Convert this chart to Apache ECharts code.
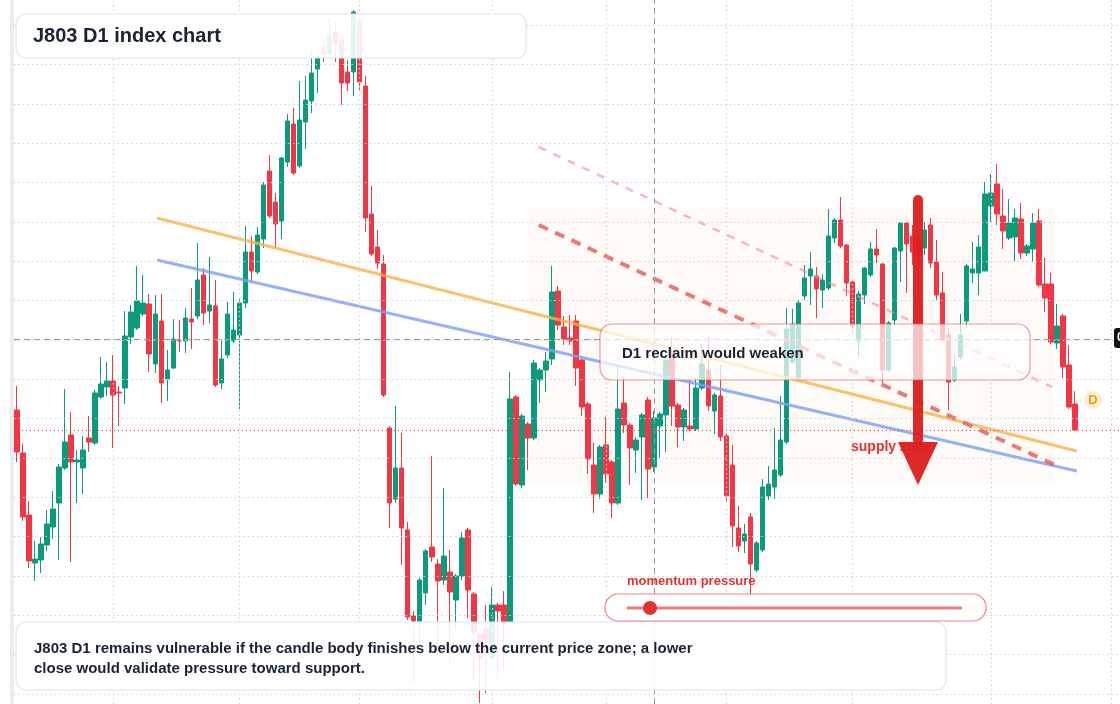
<!DOCTYPE html>
<html><head><meta charset="utf-8">
<script src="https://cdn.jsdelivr.net/npm/echarts@6/dist/echarts.min.js"></script>
<style>html,body{margin:0;padding:0;background:#fff}#c{width:1120px;height:704px}</style>
</head><body><div id="c"></div>
<script>
const opens=[390,347,285,237,240,255,273,297,332,365,338,332,362,357,403,413,419,408,412,463,472,486,496,436,479,421,432,460,459,481,484,525,489,494,417,445,459,465,497,548,528,561,629,598,579,638,676,634,678,699,731,753,746,768,760,728,728,778,714,586,553,536,372,301,332,270,184,179,207,253,236,220,228,200,224,270,206,166,172,142,195,195,178,403,315,376,362,420,430,441,509,473,462,479,440,396,335,306,355,338,297,397,375,350,363,400,333,374,385,443,395,373,374,371,412,430,389,404,364,335,272,259,283,230,250,304,313,325,358,438,422,504,524,524,510,512,562,580,555,518,459,505,525,551,536,430,480,549,577,564,560,552,575,538,507,465,420,443,479,527,527,529,594,616,584,562,563,581,547,551,579,516,516,457,484,435,396];
const closes=[348,283,239,241,256,276,291,333,358,338,340,350,358,407,416,419,405,407,464,488,499,497,446,486,417,430,461,459,482,478,520,487,495,415,441,486,470,497,548,529,565,615,584,576,642,679,627,680,700,727,742,746,764,755,717,717,788,718,582,546,537,405,297,332,272,183,179,220,249,243,219,244,208,224,262,210,168,142,160,195,189,177,401,316,384,362,437,430,439,508,475,461,459,432,393,341,306,353,326,297,391,375,352,360,385,331,382,386,440,394,373,390,371,412,436,394,405,363,304,274,254,266,236,257,313,316,330,360,471,476,497,522,531,511,520,564,580,554,517,474,506,532,551,545,430,477,552,577,556,548,544,570,537,505,460,418,433,465,534,531,553,606,607,586,569,577,582,547,554,577,515,502,458,474,433,393,370];
const lows=[338,279,232,219,227,249,261,240,330,238,297,306,348,355,401,404,352,374,396,456,470,484,428,427,397,399,431,448,447,451,481,475,477,413,411,442,457,391,492,517,526,552,582,552,561,633,625,632,651,687,707,738,746,738,695,709,704,710,568,544,531,403,272,297,235,180,117,150,195,238,143,215,137,172,220,182,120,97,107,140,122,132,176,314,312,330,360,397,408,435,470,455,455,414,384,326,287,301,317,282,295,367,315,327,300,302,328,342,348,374,353,359,369,369,410,389,366,359,298,253,248,247,205,228,248,300,301,323,356,436,420,500,495,482,492,510,557,552,504,465,443,496,523,537,417,428,475,518,507,535,500,545,532,500,458,390,418,440,472,517,505,529,578,575,551,560,539,541,544,538,513,488,456,451,422,391,369];
const highs=[414,356,299,259,263,290,309,336,411,388,350,364,384,410,443,438,445,414,489,495,534,525,506,505,506,450,481,480,492,512,557,532,543,520,461,498,508,502,574,564,573,618,645,607,643,686,692,719,724,749,749,761,782,778,765,740,790,785,724,614,570,545,374,394,367,278,189,222,251,344,241,312,250,226,268,272,208,168,195,213,197,209,428,405,386,378,440,432,448,534,514,484,485,485,442,398,357,355,383,340,433,423,377,363,387,403,389,388,442,463,397,392,420,422,456,463,407,435,366,355,294,276,287,259,321,334,372,404,492,491,500,535,548,533,526,591,582,603,556,519,509,533,558,571,537,479,553,578,578,575,568,578,582,560,528,472,445,486,536,558,565,618,626,636,611,601,591,597,556,587,591,542,527,496,486,455,409];
const orangeTrend=[[23.3,582],[176.3,349]];
const blueTrend=[[23.3,540],[176.3,329]];
const redTrend=[[86.8,575],[172.7,335]];
const redTrendFaint=[[86.8,653],[172.2,413]];
const zone=[[85,593],[172.5,317]];
const crossPrice=461, crossIndex=106;
const vGridIdx=[16,37,57,79,98,118,139,162,182];
const hGridPrices=[106,145.35,184.7,224.05,263.4,302.75,342.1,381.45,420.8,460.15,499.5,538.85,578.2,617.55,656.9,696.25,735.6,774.95];

const SLOTS=184;
const N=opens.length;
const cats=Array.from({length:SLOTS},(_,i)=>'D'+(i+1));
const candle=opens.map((o,i)=>[o,closes[i],lows[i],highs[i]]);
const chart=echarts.init(document.getElementById('c'));
const lineS=(data,color,w,type,op)=>({type:'line',xAxisIndex:1,data,symbol:'none',silent:true,
  lineStyle:{color,width:w,type,opacity:op,cap:'butt'},z:3});
const gridStyle={color:'#d2d2d2',type:[1.5,3],width:1.2};
chart.setOption({
  animation:false,
  grid:{left:14,top:0,right:0,bottom:0,containLabel:false},
  xAxis:[
    {type:'category',data:cats,boundaryGap:true,axisLine:{show:false},axisTick:{show:false},axisLabel:{show:false},splitLine:{show:false}},
    {type:'value',min:-0.5,max:SLOTS-0.5,show:false,splitLine:{show:false}}
  ],
  yAxis:{type:'value',min:96,max:800,axisLine:{show:false},axisLabel:{show:false},axisTick:{show:false},splitLine:{show:false}},
  series:[
    {type:'line',xAxisIndex:1,data:[],symbol:'none',silent:true,z:1,
     markLine:{silent:true,symbol:'none',label:{show:false},animation:false,
       data:[...vGridIdx.map(v=>({xAxis:v,lineStyle:gridStyle})),...hGridPrices.map(v=>({yAxis:v,lineStyle:gridStyle}))]},
     markArea:{silent:true,itemStyle:{color:'rgba(252,240,232,0.35)',borderRadius:20},data:[[{coord:zone[0]},{coord:zone[1]}]]}},
    {type:'candlestick',data:candle,barWidth:5,clip:false,z:2,
     itemStyle:{color:'#0a9a7c',color0:'#f23645',borderColor:'#0a9a7c',borderColor0:'#f23645',borderWidth:1},
     markLine:{silent:true,symbol:'none',label:{show:false},data:[
       {yAxis:crossPrice,lineStyle:{color:'#9a9a9a',type:[6,4],width:1}},
       {xAxis:crossIndex,lineStyle:{color:'#9a9a9a',type:[6,4],width:1}},
       {yAxis:closes[N-1],lineStyle:{color:'#e0303a',type:[1,3],width:1}}
     ]}},
    lineS(orangeTrend,'#f7b44a',3,'solid',0.8),
    lineS(blueTrend,'#7d9ef6',3,'solid',0.8),
    lineS(redTrend,'#e65a5a',4,[10,8],0.8),
    lineS(redTrendFaint,'#ee8c8c',2.5,[8,8],0.6)
  ],
  graphic:[
    {type:'rect',shape:{x:10,y:0,width:4,height:704},style:{fill:'#ececec'},z:1},
    {type:'line',shape:{x1:918,y1:200,x2:918,y2:440},style:{stroke:'rgba(220,30,30,0.95)',lineWidth:10,lineCap:'round'},z:20},
    {type:'polygon',shape:{points:[[898,442],[938,442],[918,485]]},style:{fill:'rgba(220,30,30,0.95)'},z:20},
    {type:'text',x:851,y:440,style:{text:'supply zone',fill:'#e03434',font:'bold 14px "Liberation Sans", Arial'},z:19},
    {type:'rect',shape:{x:600,y:324,width:430,height:56,r:12},style:{fill:'rgba(255,255,255,0.72)',stroke:'rgba(230,90,90,0.6)',lineWidth:1.2},z:30},
    {type:'text',x:622,y:346,style:{text:'D1 reclaim would weaken',fill:'#1b2333',font:'bold 15px "Liberation Sans", Arial'},z:31},
    {type:'rect',shape:{x:16,y:14,width:510,height:44,r:10},style:{fill:'rgba(255,255,255,0.9)',stroke:'#d9e5f7',lineWidth:1.2},z:30},
    {type:'text',x:33,y:26,style:{text:'J803 D1 index chart',fill:'#1b2333',font:'bold 20px "Liberation Sans", Arial'},z:31},
    {type:'rect',shape:{x:16,y:622,width:930,height:68,r:10},style:{fill:'rgba(255,255,255,0.88)',stroke:'#d9e5f7',lineWidth:1.2},z:30},
    {type:'text',x:34,y:639,style:{text:'J803 D1 remains vulnerable if the candle body finishes below the current price zone; a lower\nclose would validate pressure toward support.',fill:'#1b2333',font:'bold 15px "Liberation Sans", Arial',lineHeight:20},z:31},
    {type:'text',x:627,y:575,style:{text:'momentum pressure',fill:'#e03434',font:'bold 13px "Liberation Sans", Arial'},z:31},
    {type:'rect',shape:{x:605,y:594,width:381,height:27,r:13},style:{fill:'rgba(255,255,255,0.85)',stroke:'rgba(230,80,80,0.7)',lineWidth:1.2},z:30},
    {type:'line',shape:{x1:627,y1:608,x2:962,y2:608},style:{stroke:'rgba(230,80,80,0.75)',lineWidth:3},z:31},
    {type:'circle',shape:{cx:650,cy:608,r:7},style:{fill:'#e03434'},z:32},
    {type:'circle',shape:{cx:1093,cy:400,r:9},style:{fill:'#fdebd3'},z:30},
    {type:'text',x:1093,y:400,style:{text:'D',fill:'#f59e0b',font:'bold 13px "Liberation Sans", Arial',align:'center',verticalAlign:'middle'},z:31},
    {type:'rect',shape:{x:1114,y:328,width:30,height:20,r:3},style:{fill:'#111'},z:30},
    {type:'text',x:1117,y:332,style:{text:'0',fill:'#fff',font:'bold 12px "Liberation Sans", Arial'},z:31}
  ]
});
</script></body></html>
